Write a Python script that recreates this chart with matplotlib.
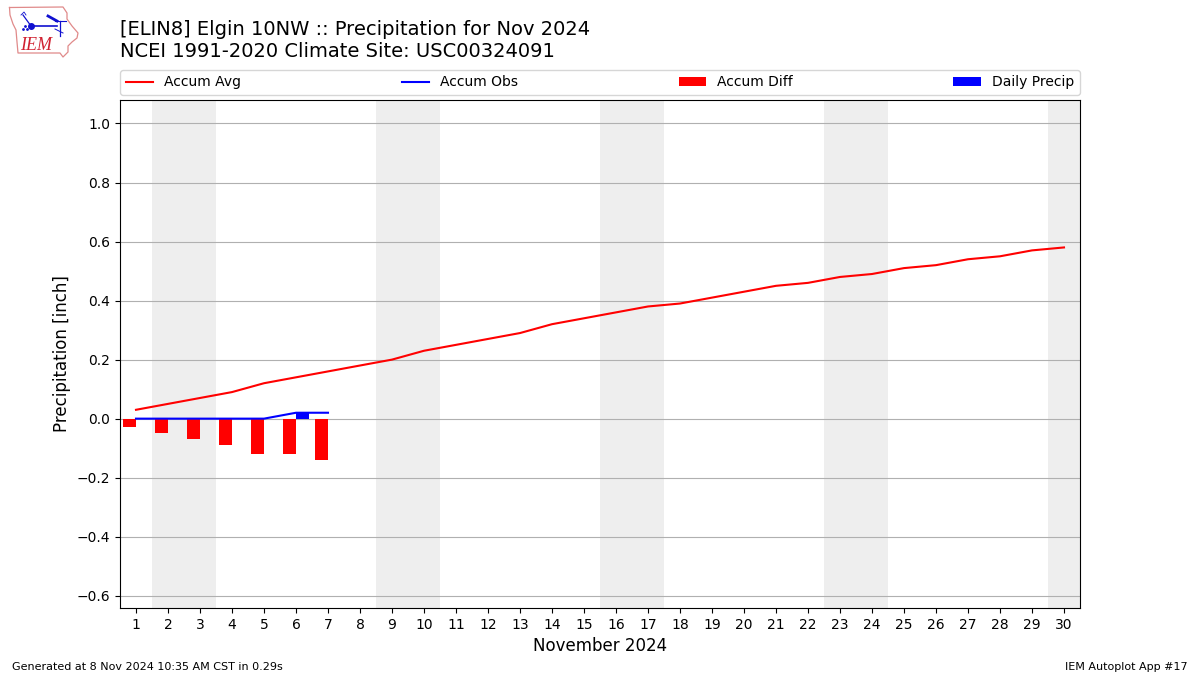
import matplotlib
matplotlib.use("Agg")
import matplotlib.pyplot as plt
import numpy as np

days = list(range(1, 31))
accum_avg = [0.03, 0.05, 0.07, 0.09, 0.12, 0.14, 0.16, 0.18, 0.20, 0.23,
             0.25, 0.27, 0.29, 0.32, 0.34, 0.36, 0.38, 0.39, 0.41, 0.43,
             0.45, 0.46, 0.48, 0.49, 0.51, 0.52, 0.54, 0.55, 0.57, 0.58]
obs_days = [1, 2, 3, 4, 5, 6, 7]
accum_obs = [0, 0, 0, 0, 0, 0.02, 0.02]
accum_diff = [-0.03, -0.05, -0.07, -0.09, -0.12, -0.12, -0.14]
daily_precip = [0, 0, 0, 0, 0, 0.02, 0]
weekends = [(1.5, 3.5), (8.5, 10.5), (15.5, 17.5), (22.5, 24.5), (29.5, 30.5)]
yticks = [-0.6, -0.4, -0.2, 0.0, 0.2, 0.4, 0.6, 0.8, 1.0]

W, H = 1200, 675
fig = plt.figure(figsize=(12, 6.75), dpi=100)
ax = fig.add_axes([120 / W, 1 - 608 / H, 960 / W, 508 / H])

for a, b in weekends:
    ax.axvspan(a, b, color="#eeeeee", lw=0, zorder=0)
ax.set_axisbelow(True)
ax.grid(axis="y", color="#b0b0b0", lw=0.8)

ax.bar(obs_days, accum_diff, width=-0.4, align="edge", color="red", label="Accum Diff", zorder=2)
ax.bar(obs_days, daily_precip, width=0.4, align="edge", color="blue", label="Daily Precip", zorder=2)
ax.plot(days, accum_avg, color="red", lw=1.5, label="Accum Avg", zorder=3)
ax.plot(obs_days, accum_obs, color="blue", lw=1.5, label="Accum Obs", zorder=3)

ax.set_xlim(0.5, 30.5)
ax.set_ylim(-0.6415, 1.0795)
ax.set_xticks(days)
ax.set_yticks(yticks)
ax.set_yticklabels(["\u22120.6", "\u22120.4", "\u22120.2", "0.0", "0.2", "0.4", "0.6", "0.8", "1.0"])
ax.tick_params(labelsize=10)
ax.set_xlabel("November 2024", fontsize=12, labelpad=4)
ax.set_ylabel("Precipitation [inch]", fontsize=12, labelpad=4)

h, l = ax.get_legend_handles_labels()
order = [l.index(n) for n in ["Accum Avg", "Accum Obs", "Accum Diff", "Daily Precip"]]
ax.legend([h[i] for i in order], [l[i] for i in order], ncol=4, mode="expand",
          loc="lower left", bbox_to_anchor=(0, 1 + 5 / 508, 1, 0.05), borderaxespad=0, fontsize=10)

fig.text(120 / W, 1 - 29.5 / H, "[ELIN8] Elgin 10NW :: Precipitation for Nov 2024", fontsize=14, va="center")
fig.text(120 / W, 1 - 51.5 / H, "NCEI 1991-2020 Climate Site: USC00324091", fontsize=14, va="center")
fig.text(12 / W, 1 - 666.5 / H, "Generated at 8 Nov 2024 10:35 AM CST in 0.29s", fontsize=8, va="center")
fig.text(1188 / W, 1 - 666.5 / H, "IEM Autoplot App #17", fontsize=8, va="center", ha="right")

# IEM logo sketched in pixel coordinates
lg = fig.add_axes([0, 1 - 64 / H, 90 / W, 64 / H])
lg.set_xlim(0, 90)
lg.set_ylim(64, 0)
lg.axis("off")
outline_x = [9.5, 63, 67, 67, 72, 78, 77, 72, 68, 68, 63, 60, 18, 17, 16, 13, 10, 9.5]
outline_y = [7.5, 7, 13, 19, 26, 33, 38, 42, 46, 52, 57, 53, 53, 42, 30, 24, 15, 7.5]
lg.plot(outline_x, outline_y, color="#e08a8a", lw=0.9)
lg.plot([31, 57], [26, 26], color="#1010d0", lw=1.2)
lg.plot([23, 31], [15, 26], color="#1010d0", lw=0.9)
lg.plot([21, 24, 26], [15, 12, 15], color="#1010d0", lw=0.6)
lg.plot([55, 66], [21, 21], color="#1010d0", lw=0.8)
lg.plot([60, 60], [21, 36], color="#1010d0", lw=0.9)
lg.plot([55, 63], [29, 33], color="#1010d0", lw=0.7)
lg.plot([48, 57], [16, 21], color="#1010d0", lw=2.0)
lg.plot([31], [26], "o", color="#1010d0", ms=4)
lg.plot([23, 25, 27], [29, 26, 29], ".", color="#1010d0", ms=2)
lg.text(20.5, 45, "IEM", fontsize=13, family="Liberation Serif", style="italic", color="#d02030", va="center")

fig.savefig("out.png", dpi=100)
